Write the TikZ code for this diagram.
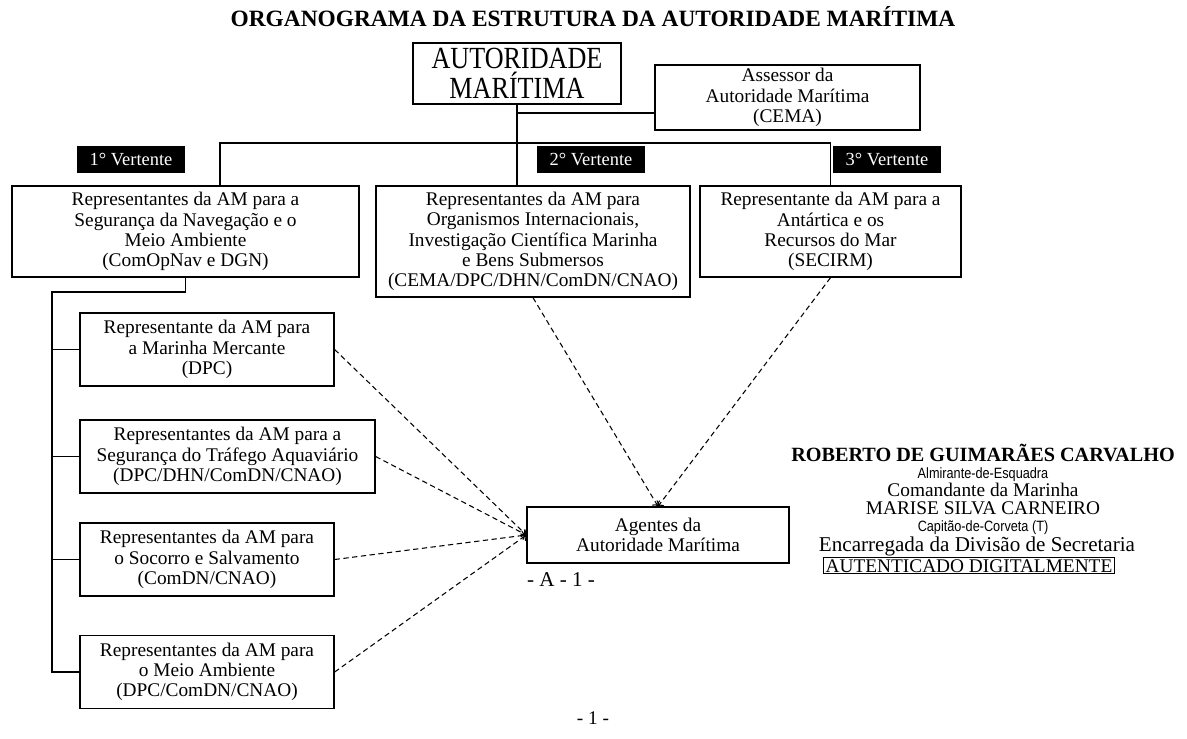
\documentclass[tikz,border=0pt]{standalone}
\usepackage{fontspec}
\setmainfont{Liberation Serif}
\newfontfamily\narrowserif[FakeStretch=0.85]{Liberation Serif}
\newfontfamily\narrowsans[FakeStretch=0.85]{Liberation Sans}
\usetikzlibrary{arrows.meta, positioning}

\begin{document}
\begin{tikzpicture}[x=0.02cm, y=-0.02cm, line width=0.8pt,
  box/.style={draw, align=center, inner sep=2pt, font=\fontsize{11}{11.5}\selectfont},
  vert/.style={fill=black, text=white, minimum width=2.16cm, minimum height=0.54cm,
    inner sep=0pt, font=\fontsize{10.5}{12}\selectfont},
  dep/.style={densely dashed, line width=0.6pt, -{To[length=2.5pt]}},
  sig/.style={anchor=base, inner sep=0pt}]
\useasboundingbox (0,0) rectangle (1187,738);

% Title
\node[font=\bfseries\fontsize{13.3}{15}\selectfont] (title) at (593,17)
  {ORGANOGRAMA DA ESTRUTURA DA AUTORIDADE MARÍTIMA};

% Autoridade and its advisor
\node[box, minimum width=4.16cm, minimum height=1.22cm,
      font=\narrowserif\fontsize{17.5}{17}\selectfont] (am) at (517,73.5) {AUTORIDADE\\MARÍTIMA};
\node[box, minimum width=5.3cm, minimum height=1.3cm] (ass) at (787.5,97.5)
  {Assessor da\\Autoridade Marítima\\(CEMA)};
\coordinate (lk) at (655,113);

% Three vertentes
\node[box, minimum width=6.94cm, minimum height=1.82cm] (b1) at (185.5,231.5)
  {Representantes da AM para a\\Segurança da Navegação e o\\Meio Ambiente\\(ComOpNav e DGN)};
\node[box, minimum width=6.28cm, minimum height=2.22cm] (b2) at (533,241.5)
  {Representantes da AM para\\Organismos Internacionais,\\Investigação Científica Marinha\\e Bens Submersos\\(CEMA/DPC/DHN/ComDN/CNAO)};
\node[box, minimum width=5.22cm, minimum height=1.82cm] (b3) at (830.5,231.5)
  {Representante da AM para a\\Antártica e os\\Recursos do Mar\\(SECIRM)};
\node[vert] (v1) at (131,159.5) {1° Vertente};
\node[vert] (v2) at (591,159.5) {2° Vertente};
\node[vert] (v3) at (887,159.5) {3° Vertente};

% Representatives under the 1st vertente
\node[box, minimum width=5.08cm, minimum height=1.46cm] (ra) at (207,349.5)
  {Representante da AM para\\a Marinha Mercante\\(DPC)};
\node[box, minimum width=5.9cm, minimum height=1.46cm] (rb) at (227.5,456.5)
  {Representantes da AM para a\\Segurança do Tráfego Aquaviário\\(DPC/DHN/ComDN/CNAO)};
\node[box, minimum width=5.08cm, minimum height=1.46cm] (rc) at (207,559.5)
  {Representantes da AM para\\o Socorro e Salvamento\\(ComDN/CNAO)};
\node[box, minimum width=5.08cm, minimum height=1.46cm] (rd) at (207,672)
  {Representantes da AM para\\o Meio Ambiente\\(DPC/ComDN/CNAO)};

% Agents
\node[box, minimum width=5.24cm, minimum height=1.12cm] (ag) at (658,535)
  {Agentes da\\Autoridade Marítima};
\node[font=\fontsize{12}{14}\selectfont] (pa) at (561,580) {- A - 1 -};

% Solid links
\draw (am.south) -- (am.south |- b2.north);
\draw (am.south |- lk) -- (lk);
\coordinate (bus) at (220,143);
\draw (bus |- b1.north) -- (bus) -- (bus -| b3.north) -- (b3.north);
\coordinate (trunk) at (52,292);
\draw (b1.south) |- (trunk) |- (rd.west);
\foreach \n in {ra,rb,rc} \draw (trunk |- \n.west) -- (\n.west);

% Dashed links to the agents
\foreach \n in {ra,rb,rc,rd} \draw[dep] (\n.east) -- (ag.west);
\draw[dep] (b2.south) -- (ag.north);
\draw[dep] (b3.south) -- (ag.north);

% Signature
\node[sig, font=\bfseries\fontsize{11.5}{13}\selectfont] (s1) at (983,461) {ROBERTO DE GUIMARÃES CARVALHO};
\node[sig, font=\narrowsans\fontsize{8.5}{10}\selectfont] (s2) at (983,478) {Almirante-de-Esquadra};
\node[sig, font=\fontsize{11}{12}\selectfont] (s3) at (983,496) {Comandante da Marinha};
\node[sig, font=\fontsize{11}{12}\selectfont] (s4) at (983,514) {MARISE SILVA CARNEIRO};
\node[sig, font=\narrowsans\fontsize{8.5}{10}\selectfont] (s5) at (983,531) {Capitão-de-Corveta (T)};
\node[sig, font=\fontsize{12}{13}\selectfont] (s6) at (977,551) {Encarregada da Divisão de Secretaria};
\node[draw, line width=0.6pt, inner sep=1pt, anchor=base, font=\fontsize{11}{12}\selectfont] (s7) at (969,572)
  {AUTENTICADO DIGITALMENTE};

\node[font=\fontsize{11}{13}\selectfont] (pn) at (593,718) {- 1 -};
\end{tikzpicture}
\end{document}
